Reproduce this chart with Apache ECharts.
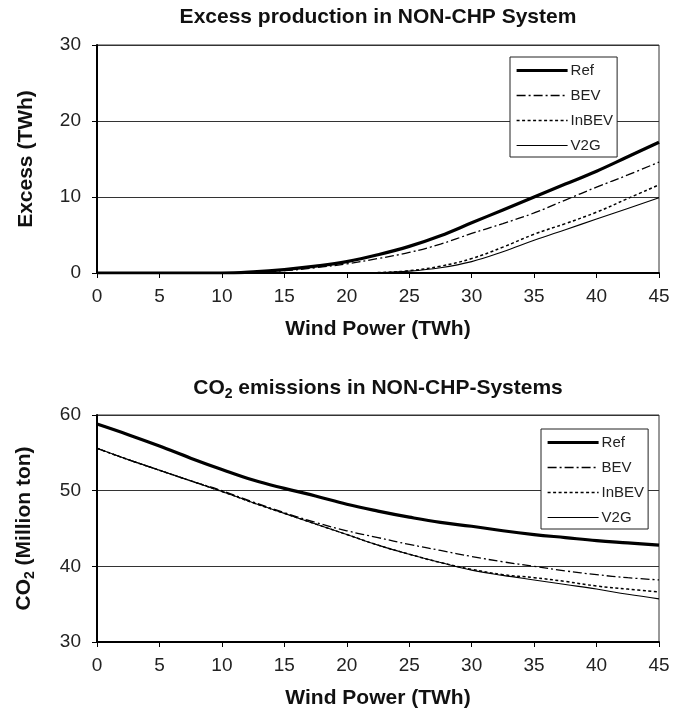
<!DOCTYPE html>
<html>
<head>
<meta charset="utf-8">
<script src="https://cdn.jsdelivr.net/npm/echarts@6/dist/echarts.min.js"></script>
<style>
html,body{margin:0;padding:0;background:#fff;}
#c{width:686px;height:710px;}
</style>
</head>
<body>
<div id="c"></div>
<script>
// ---- data ----
const windPower = [0, 2.5, 5, 7.5, 10, 12.5, 15, 17.5, 20, 22.5, 25, 27.5, 30, 32.5, 35, 37.5, 40, 42.5, 45];
const xTicks = [0, 5, 10, 15, 20, 25, 30, 35, 40, 45];
const seriesNames = ['Ref', 'BEV', 'InBEV', 'V2G'];

// Excess production (TWh)
const excessRef   = [0, 0, 0, 0, 0, 0.15, 0.45, 0.9, 1.5, 2.4, 3.5, 4.9, 6.6, 8.3, 10.0, 11.7, 13.4, 15.3, 17.2];
const excessBEV   = [0, 0, 0, 0, 0, 0.1, 0.3, 0.7, 1.2, 1.9, 2.7, 3.8, 5.2, 6.5, 7.9, 9.6, 11.3, 12.9, 14.6];
const excessInBEV = [0, 0, 0, 0, 0, 0, 0, 0, 0, 0.05, 0.3, 0.9, 1.9, 3.4, 5.1, 6.5, 8.0, 9.8, 11.6];
const excessV2G   = [0, 0, 0, 0, 0, 0, 0, 0, 0, 0.05, 0.25, 0.7, 1.5, 2.8, 4.3, 5.7, 7.1, 8.5, 9.9];

// CO2 emissions (Million ton)
const co2Ref   = [58.8, 57.4, 55.9, 54.3, 52.8, 51.4, 50.3, 49.3, 48.2, 47.3, 46.5, 45.8, 45.3, 44.7, 44.2, 43.8, 43.4, 43.1, 42.8];
const co2BEV   = [55.6, 54.1, 52.7, 51.3, 50.0, 48.5, 47.1, 45.8, 44.7, 43.8, 42.9, 42.1, 41.3, 40.6, 40.0, 39.4, 38.9, 38.5, 38.2];
const co2InBEV = [55.6, 54.1, 52.7, 51.3, 49.9, 48.4, 47.0, 45.6, 44.2, 42.8, 41.6, 40.5, 39.6, 38.9, 38.5, 38.0, 37.4, 37.0, 36.6];
const co2V2G   = [55.6, 54.1, 52.7, 51.3, 49.9, 48.4, 47.0, 45.6, 44.2, 42.8, 41.6, 40.5, 39.5, 38.8, 38.2, 37.6, 37.0, 36.3, 35.7];

// ---- styles ----
const FONT = 'Liberation Sans, Arial, Helvetica, sans-serif';
const lineStyles = [
  {width: 3.2, type: 'solid'},
  {width: 1.3, type: [9, 3, 2, 3]},
  {width: 1.5, type: [3, 2.5]},
  {width: 1.1, type: 'solid'}
];

function pairs(ys) { return windPower.map((x, i) => [x, ys[i]]); }

function mkSeries(arrs, gi) {
  return arrs.map((arr, k) => ({
    name: seriesNames[k],
    type: 'line',
    xAxisIndex: gi, yAxisIndex: gi,
    data: pairs(arr),
    smooth: 0.4,
    symbol: 'none',
    lineStyle: Object.assign({color: '#000'}, lineStyles[k]),
    itemStyle: {color: '#000'},
    z: 10 - k,
    animation: false
  }));
}

const gridL = 97, gridR = 27, gridH = 228;

function xAxis(gi) {
  return {
    gridIndex: gi, type: 'value', min: 0, max: 45, interval: 5,
    name: 'Wind Power (TWh)', nameLocation: 'middle', nameGap: 46,
    nameTextStyle: {fontFamily: FONT, fontWeight: 'bold', fontSize: 21, color: '#111'},
    axisLine: {show: true, lineStyle: {color: '#000', width: 2}},
    axisTick: {show: true, inside: false, length: 5, lineStyle: {color: '#000', width: 1}},
    axisLabel: {fontFamily: FONT, fontSize: 19, color: '#222', margin: 14},
    splitLine: {show: false}
  };
}
function yAxis(gi, min, max, name, rich) {
  return {
    gridIndex: gi, type: 'value', min: min, max: max, interval: 10,
    name: name, nameLocation: 'middle', nameGap: 60, nameRotate: 90,
    nameTextStyle: {fontFamily: FONT, fontWeight: 'bold', fontSize: 21, color: '#111', rich: rich},
    axisLine: {show: true, lineStyle: {color: '#000', width: 2}},
    axisTick: {show: true, inside: false, length: 5, lineStyle: {color: '#000', width: 1}},
    axisLabel: {fontFamily: FONT, fontSize: 19, color: '#222', margin: 16},
    splitLine: {show: true, lineStyle: {color: '#333', width: 1}}
  };
}

const richSub = {
  b: {fontFamily: FONT, fontWeight: 'bold', fontSize: 21, color: '#111', lineHeight: 25},
  s: {fontFamily: FONT, fontWeight: 'bold', fontSize: 14, color: '#111', lineHeight: 14, verticalAlign: 'bottom'}
};

function legend(left, top) {
  return {
    left: left, top: top, orient: 'vertical',
    data: seriesNames.map((n, k) => ({name: n, lineStyle: {width: lineStyles[k].width}})),
    itemWidth: 51, itemHeight: 15, itemGap: 10,
    padding: [6, 4, 4, 5],
    backgroundColor: '#fff', borderColor: '#222', borderWidth: 1,
    itemStyle: {opacity: 0},
    textStyle: {fontFamily: FONT, fontSize: 15, color: '#222', lineHeight: 15, padding: [0, 0, 0, -2]},
    selectedMode: false
  };
}

const option = {
  backgroundColor: '#fff',
  animation: false,
  title: [
    {text: 'Excess production in NON-CHP System', left: 378, top: 7, textAlign: 'center', padding: 0,
     textStyle: {fontFamily: FONT, fontWeight: 'bold', fontSize: 21, color: '#111'}},
    {text: '{b|CO}{s|2}{b| emissions in NON-CHP-Systems}', left: 378, top: 376, textAlign: 'center', padding: 0,
     textStyle: {rich: richSub}}
  ],
  legend: [
    Object.assign(legend(510, 57), {id: 'l0'}),
    Object.assign(legend(541, 429), {id: 'l1'})
  ],
  grid: [
    {left: gridL, right: gridR, top: 45, height: gridH, show: true, borderColor: '#333', borderWidth: 1, backgroundColor: 'transparent'},
    {left: gridL, right: gridR, top: 415, height: gridH, show: true, borderColor: '#333', borderWidth: 1, backgroundColor: 'transparent'}
  ],
  xAxis: [xAxis(0), xAxis(1)],
  yAxis: [
    yAxis(0, 0, 30, 'Excess (TWh)', null),
    yAxis(1, 30, 60, '{b|CO}{s|2}{b| (Million ton)}', richSub)
  ],
  series: mkSeries([excessRef, excessBEV, excessInBEV, excessV2G], 0)
    .concat(mkSeries([co2Ref, co2BEV, co2InBEV, co2V2G], 1))
};

const chart = echarts.init(document.getElementById('c'), null, {renderer: 'canvas'});
chart.setOption(option);
</script>
</body>
</html>
